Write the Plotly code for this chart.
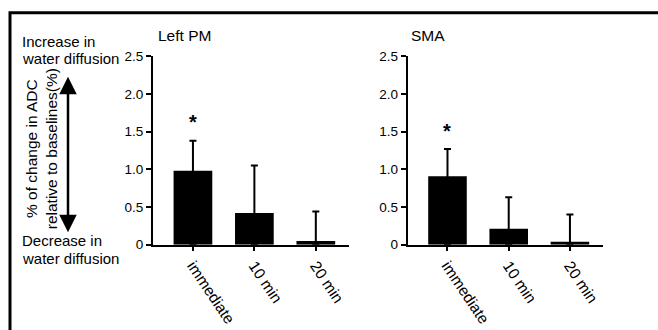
import plotly.graph_objects as go

categories = ["immediate", "10 min", "20 min"]
left_pm_values = [0.98, 0.42, 0.05]
left_pm_errors = [0.40, 0.63, 0.39]
sma_values = [0.91, 0.21, 0.04]
sma_errors = [0.36, 0.42, 0.36]
significant = [True, False, False]
panel_titles = ["Left PM", "SMA"]
y_tickvals = [0, 0.5, 1.0, 1.5, 2.0, 2.5]
y_ticktext = ["0", "0.5", "1.0", "1.5", "2.0", "2.5"]

FONT = "Liberation Sans, Arial, sans-serif"
W, H = 658, 330

fig = go.Figure()
panels = [(left_pm_values, left_pm_errors, "x", "y"), (sma_values, sma_errors, "x2", "y2")]
for vals, errs, xa, ya in panels:
    fig.add_trace(go.Bar(
        x=categories, y=vals, xaxis=xa, yaxis=ya,
        marker=dict(color="black", line=dict(width=0)),
        width=0.63,
        error_y=dict(type="data", symmetric=False, array=errs,
                     arrayminus=vals, color="black",
                     thickness=2, width=3.5),
        showlegend=False,
    ))
    for c, v, e, s in zip(categories, vals, errs, significant):
        if s:
            fig.add_annotation(x=c, y=v + e + 0.07, xref=xa, yref=ya, text="<b>*</b>",
                               showarrow=False, yanchor="bottom",
                               font=dict(size=20, color="black", family=FONT))

xdom = [[153 / W, 349 / W], [407.7 / W, 603 / W]]
ydom = [(330 - 249) / H, (330 - 51.7) / H]
axis_common = dict(showline=True, linecolor="black", linewidth=2, showgrid=False,
                   zeroline=False, ticks="outside", tickcolor="black")
fig.update_layout(
    width=W, height=H, margin=dict(l=0, r=0, t=0, b=0),
    paper_bgcolor="white", plot_bgcolor="white",
    font=dict(family=FONT, color="black"),
    xaxis=dict(domain=xdom[0], anchor="y", range=[-0.65, 2.54], tickangle=56,
               ticklen=4, tickwidth=2, tickfont=dict(size=15.5), **axis_common),
    xaxis2=dict(domain=xdom[1], anchor="y2", range=[-0.65, 2.54], tickangle=56,
                ticklen=4, tickwidth=2, tickfont=dict(size=15.5), **axis_common),
    yaxis=dict(domain=ydom, anchor="x", range=[0, 2.5], tickvals=y_tickvals,
               ticktext=y_ticktext, ticklen=5, tickwidth=2,
               tickfont=dict(size=13.5), **axis_common),
    yaxis2=dict(domain=ydom, anchor="x2", range=[0, 2.5], tickvals=y_tickvals,
                ticktext=y_ticktext, ticklen=5, tickwidth=2,
                tickfont=dict(size=13.5), **axis_common),
)

# panel titles
for title, xpix in zip(panel_titles, [156, 409]):
    fig.add_annotation(x=xpix / W, y=(330 - 30) / H, xref="paper", yref="paper",
                       text=title, showarrow=False, xanchor="left", yanchor="middle",
                       font=dict(size=15.5))

# left side labels
side_texts = [("Increase in", 36), ("water diffusion", 54),
              ("Decrease in", 245), ("water diffusion", 263)]
for t, ypix in side_texts:
    fig.add_annotation(x=20 / W, y=(330 - ypix) / H, xref="paper", yref="paper",
                       text=t, showarrow=False, xanchor="left", yanchor="middle",
                       font=dict(size=15))

# rotated axis description
fig.add_annotation(x=41 / W, y=(330 - 149) / H, xref="paper", yref="paper",
                   text="% of change in ADC<br>relative to baselines(%)",
                   showarrow=False, textangle=-90, xanchor="center", yanchor="middle",
                   font=dict(size=15.5), align="center")

# double-headed arrow
fig.add_annotation(x=68 / W, y=(330 - 73) / H, xref="paper", yref="paper",
                   ax=0, ay=157, text="", showarrow=True, arrowhead=2,
                   arrowside="end+start", arrowwidth=2.5, arrowsize=1.4,
                   arrowcolor="black")

# frame
fig.add_shape(type="rect", xref="paper", yref="paper",
              x0=10 / W, y0=-0.1, x1=1.1, y1=(330 - 6) / H,
              line=dict(color="black", width=3))

fig.write_html("out.html",
               config={"displayModeBar": False},
               post_script="document.body.style.margin='0';"
                           "document.body.style.overflow='hidden';")
